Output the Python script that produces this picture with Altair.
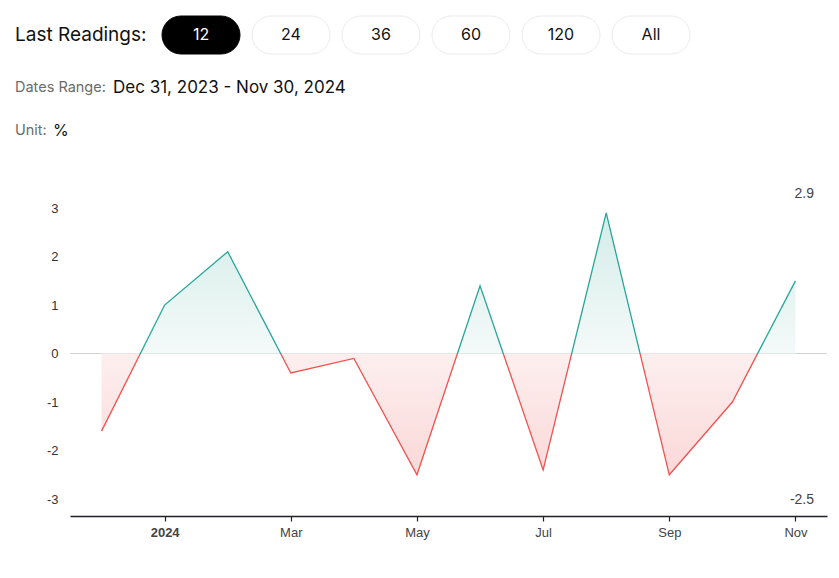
import json
import altair as alt
import pandas as pd

# ---------------- data ----------------
months = ["2023-12", "2024-01", "2024-02", "2024-03", "2024-04", "2024-05",
          "2024-06", "2024-07", "2024-08", "2024-09", "2024-10", "2024-11"]
month_labels = ["Dec", "2024", "Feb", "Mar", "Apr", "May",
                "Jun", "Jul", "Aug", "Sep", "Oct", "Nov"]
values = [-1.6, 1.0, 2.1, -0.4, -0.1, -2.5, 1.4, -2.4, 2.9, -2.5, -1.0, 1.5]
tick_months = ["2024-01", "2024-03", "2024-05", "2024-07", "2024-09", "2024-11"]
y_ticks = [-3, -2, -1, 0, 1, 2, 3]

header_title = "Last Readings:"
buttons = ["12", "24", "36", "60", "120", "All"]
active_button = "12"
dates_label = "Dates Range:"
dates_value = "Dec 31, 2023 - Nov 30, 2024"
unit_label = "Unit:"
unit_value = "%"

# ---------------- layout ----------------
W, H = 757, 337
OX, OY = 70, 179          # plot origin in the page
GREEN, RED = "#26a69a", "#ef5350"
HFONT = "Inter"
AFONT = "Liberation Sans"

df = pd.DataFrame({"i": list(range(len(months))), "month": months, "value": values})
vmax, vmin = max(values), min(values)
t = vmax / (vmax - vmin)

fill_grad = alt.LinearGradient(
    gradient="linear", x1=0, x2=0, y1=0, y2=1,
    stops=[alt.GradientStop(offset=0, color="#d3ece8"),
           alt.GradientStop(offset=t, color="#f4faf9"),
           alt.GradientStop(offset=t, color="#fdefef"),
           alt.GradientStop(offset=1, color="#fbd8d8")])
stroke_grad = alt.LinearGradient(
    gradient="linear", x1=0, x2=0, y1=0, y2=1,
    stops=[alt.GradientStop(offset=0, color=GREEN),
           alt.GradientStop(offset=t, color=GREEN),
           alt.GradientStop(offset=t, color=RED),
           alt.GradientStop(offset=1, color=RED)])

tick_idx = [months.index(m) for m in tick_months]
year_idx = month_labels.index("2024")

x_scale = alt.Scale(domain=[-0.5, len(months) - 0.5], nice=False, zero=False)
x_axis = alt.Axis(values=tick_idx, title=None, grid=False,
                  labelExpr=f"{json.dumps(month_labels)}[datum.value]",
                  labelFontWeight={"condition": {"test": f"datum.value == {year_idx}", "value": "bold"},
                                   "value": "normal"},
                  domainColor="#1f1f2e", domainWidth=1.5, tickColor="#1f1f2e",
                  tickSize=5, tickWidth=1.2, labelColor="#444", labelFontSize=13,
                  labelFont=AFONT, labelPadding=5)
y_scale = alt.Scale(domain=[-3.35, 3.6], nice=False, zero=False)
y_axis = alt.Axis(values=y_ticks, title=None, grid=False, domain=False, ticks=False,
                  labelPadding=12, labelColor="#333", labelFontSize=13, labelFont=AFONT,
                  labelExpr="'' + datum.value")

zero_rule = alt.Chart(pd.DataFrame({"z": [0]})).mark_rule(
    color="#d2d2d2", strokeWidth=1).encode(
    y=alt.Y("z:Q", scale=y_scale, axis=y_axis))

area = alt.Chart(df).mark_area(fill=fill_grad, interpolate="linear").encode(
    x=alt.X("i:Q", scale=x_scale, axis=x_axis),
    y=alt.Y("value:Q", scale=y_scale, axis=y_axis),
    y2=alt.datum(0))

line = alt.Chart(df).mark_line(stroke=stroke_grad, strokeWidth=1.3, interpolate="linear").encode(
    x=alt.X("i:Q", scale=x_scale, axis=x_axis),
    y=alt.Y("value:Q", scale=y_scale, axis=y_axis))

max_lbl = alt.Chart(pd.DataFrame({"t": [f"{vmax:.1f}"]})).mark_text(
    align="right", baseline="middle", fontSize=14, font=AFONT, color="#444").encode(
    text="t:N", x=alt.value(814 - OX), y=alt.value(194 - OY))
min_lbl = alt.Chart(pd.DataFrame({"t": [f"{vmin:.1f}"]})).mark_text(
    align="right", baseline="middle", fontSize=14, font=AFONT, color="#444").encode(
    text="t:N", x=alt.value(814 - OX), y=alt.value(500 - OY))

# ---------------- header ----------------
def htext(txt, x, y, size, color, weight="normal", align="left"):
    return alt.Chart(pd.DataFrame({"t": [txt]})).mark_text(
        align=align, baseline="middle", fontSize=size, font=HFONT, color=color,
        fontWeight=weight).encode(text="t:N", x=alt.value(x - OX), y=alt.value(y - OY))

header = [htext(header_title, 15, 35, 19, "#111")]
for k, lab in enumerate(buttons):
    left = 162 + 90 * k
    active = lab == active_button
    header.append(
        alt.Chart(pd.DataFrame({"t": [lab]})).mark_rect(
            cornerRadius=19, fill="#000" if active else "#fff",
            stroke="#000" if active else "#ebebeb", strokeWidth=1).encode(
            x=alt.value(left - OX), x2=alt.value(left + 78 - OX),
            y=alt.value(16 - OY), y2=alt.value(54 - OY)))
    header.append(htext(lab, left + 39, 35, 16, "#fff" if active else "#111", align="center"))

header += [
    htext(dates_label, 15, 88, 14.5, "#6b6b6b"),
    htext(dates_value, 113, 88, 17, "#111"),
    htext(unit_label, 15, 131, 14.5, "#6b6b6b"),
    htext(unit_value, 53, 131, 16, "#111"),
]

chart = alt.layer(zero_rule, area, line, max_lbl, min_lbl, *header).properties(
    width=W, height=H,
    autosize=alt.AutoSizeParams(type="none"),
    padding={"left": OX, "top": OY, "right": 839 - OX - W, "bottom": 578 - OY - H},
    background="white",
).configure_view(stroke=None)

chart.save("out.html", embed_options={"renderer": "svg", "actions": False})
